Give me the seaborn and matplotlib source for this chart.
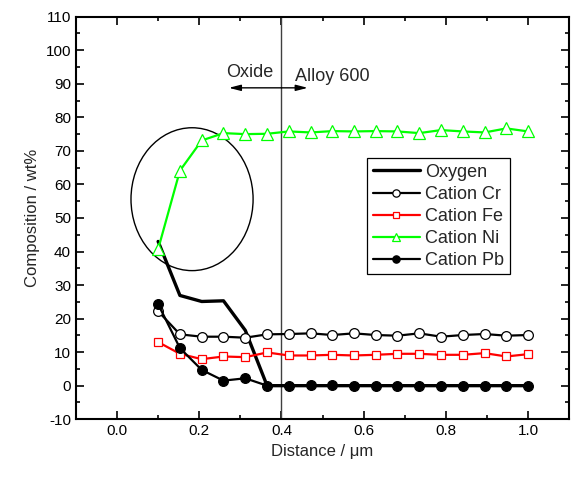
"""Depth profile of oxide / Alloy 600 composition."""
import matplotlib

matplotlib.use("Agg")
import matplotlib.pyplot as plt
from matplotlib.patches import Ellipse
from matplotlib.ticker import FormatStrFormatter, MultipleLocator
import seaborn as sns

distance = [0.100, 0.153, 0.206, 0.259, 0.312, 0.365, 0.418, 0.471, 0.524,
            0.576, 0.629, 0.682, 0.735, 0.788, 0.841, 0.894, 0.947, 1.000]
oxygen = [43.0, 26.9, 25.1, 25.3, 16.5, 0.0, 0.0, 0.0, 0.0,
          0.0, 0.0, 0.0, 0.0, 0.0, 0.0, 0.0, 0.0, 0.0]
cation_cr = [22.2, 15.3, 14.6, 14.6, 14.3, 15.3, 15.4, 15.6, 15.1,
             15.6, 15.1, 14.9, 15.6, 14.6, 15.1, 15.4, 14.9, 15.1]
cation_fe = [13.0, 9.5, 7.9, 8.7, 8.5, 9.9, 9.0, 9.0, 9.2,
             9.0, 9.2, 9.5, 9.5, 9.2, 9.2, 9.7, 8.7, 9.4]
cation_ni = [40.7, 64.1, 73.1, 75.3, 75.0, 75.1, 75.8, 75.5, 75.9,
             75.8, 75.9, 75.8, 75.3, 76.2, 75.8, 75.5, 76.7, 75.8]
cation_pb = [24.3, 11.2, 4.7, 1.5, 2.2, 0.0, 0.0, 0.1, 0.1,
             0.0, 0.0, 0.0, 0.0, 0.0, 0.0, 0.0, 0.0, 0.0]

sns.set_style("ticks")
plt.rcParams["font.family"] = ["Liberation Sans", "DejaVu Sans"]
plt.rcParams["axes.unicode_minus"] = False

fig, ax = plt.subplots(figsize=(5.75, 4.78), dpi=100)
fig.subplots_adjust(left=0.132, right=0.990, bottom=0.123, top=0.965)

green = "#00ff00"
sns.lineplot(x=distance, y=oxygen, ax=ax, color="black", lw=2.4,
             label="Oxygen", sort=False)
sns.lineplot(x=distance, y=cation_cr, ax=ax, color="black", lw=1.6,
             marker="o", ms=7, markerfacecolor="white",
             markeredgecolor="black", markeredgewidth=0.9,
             label="Cation Cr", sort=False)
sns.lineplot(x=distance, y=cation_fe, ax=ax, color="red", lw=1.6,
             marker="s", ms=6, markerfacecolor="white",
             markeredgecolor="red", markeredgewidth=0.9,
             label="Cation Fe", sort=False)
sns.lineplot(x=distance, y=cation_ni, ax=ax, color=green, lw=1.6,
             marker="^", ms=8, markerfacecolor="white",
             markeredgecolor=green, markeredgewidth=0.9,
             label="Cation Ni", sort=False)
sns.lineplot(x=distance, y=cation_pb, ax=ax, color="black", lw=1.6,
             marker="o", ms=7, markerfacecolor="black",
             markeredgecolor="black", markeredgewidth=0.9,
             label="Cation Pb", sort=False)

# oxide / alloy interface
ax.axvline(0.4, color="#404040", lw=1.0, zorder=1)
arrow = dict(arrowstyle="-|>,head_length=0.7,head_width=0.18",
             color="black", lw=1.0, shrinkA=0, shrinkB=0)
ax.annotate("", xy=(0.272, 88.8), xytext=(0.4, 88.8), arrowprops=arrow)
ax.annotate("", xy=(0.464, 88.8), xytext=(0.4, 88.8), arrowprops=arrow)
ax.text(0.323, 93.5, "Oxide", ha="center", va="center", fontsize=13)
ax.text(0.432, 92.3, "Alloy 600", ha="left", va="center", fontsize=13)

ax.add_patch(Ellipse((0.1825, 55.6), 0.297, 42.6, fill=False,
                     edgecolor="black", lw=1.0))

ax.set_xlim(-0.1, 1.1)
ax.set_ylim(-10, 110)
ax.xaxis.set_major_locator(MultipleLocator(0.2))
ax.xaxis.set_minor_locator(MultipleLocator(0.1))
ax.xaxis.set_major_formatter(FormatStrFormatter("%.1f"))
ax.yaxis.set_major_locator(MultipleLocator(10))
ax.yaxis.set_minor_locator(MultipleLocator(5))
ax.tick_params(which="both", direction="in", top=True, right=True,
               width=1.2, labelsize=11, colors="black")
ax.tick_params(which="major", length=6)
ax.tick_params(which="minor", length=3)
for s in ax.spines.values():
    s.set_visible(True)
    s.set_linewidth(1.5)
    s.set_color("black")

ax.set_xlabel("Distance / μm", fontsize=12)
ax.set_ylabel("Composition / wt%", fontsize=12)

leg = ax.legend(loc="upper left", bbox_to_anchor=(0.591, 0.648),
                fontsize=13, frameon=True, fancybox=False,
                edgecolor="black", framealpha=1, handlelength=2.6,
                handletextpad=0.3, labelspacing=0.28, borderpad=0.3,
                borderaxespad=0, markerscale=0.75)
leg.get_frame().set_linewidth(0.9)

fig.savefig("out.png", dpi=100)
